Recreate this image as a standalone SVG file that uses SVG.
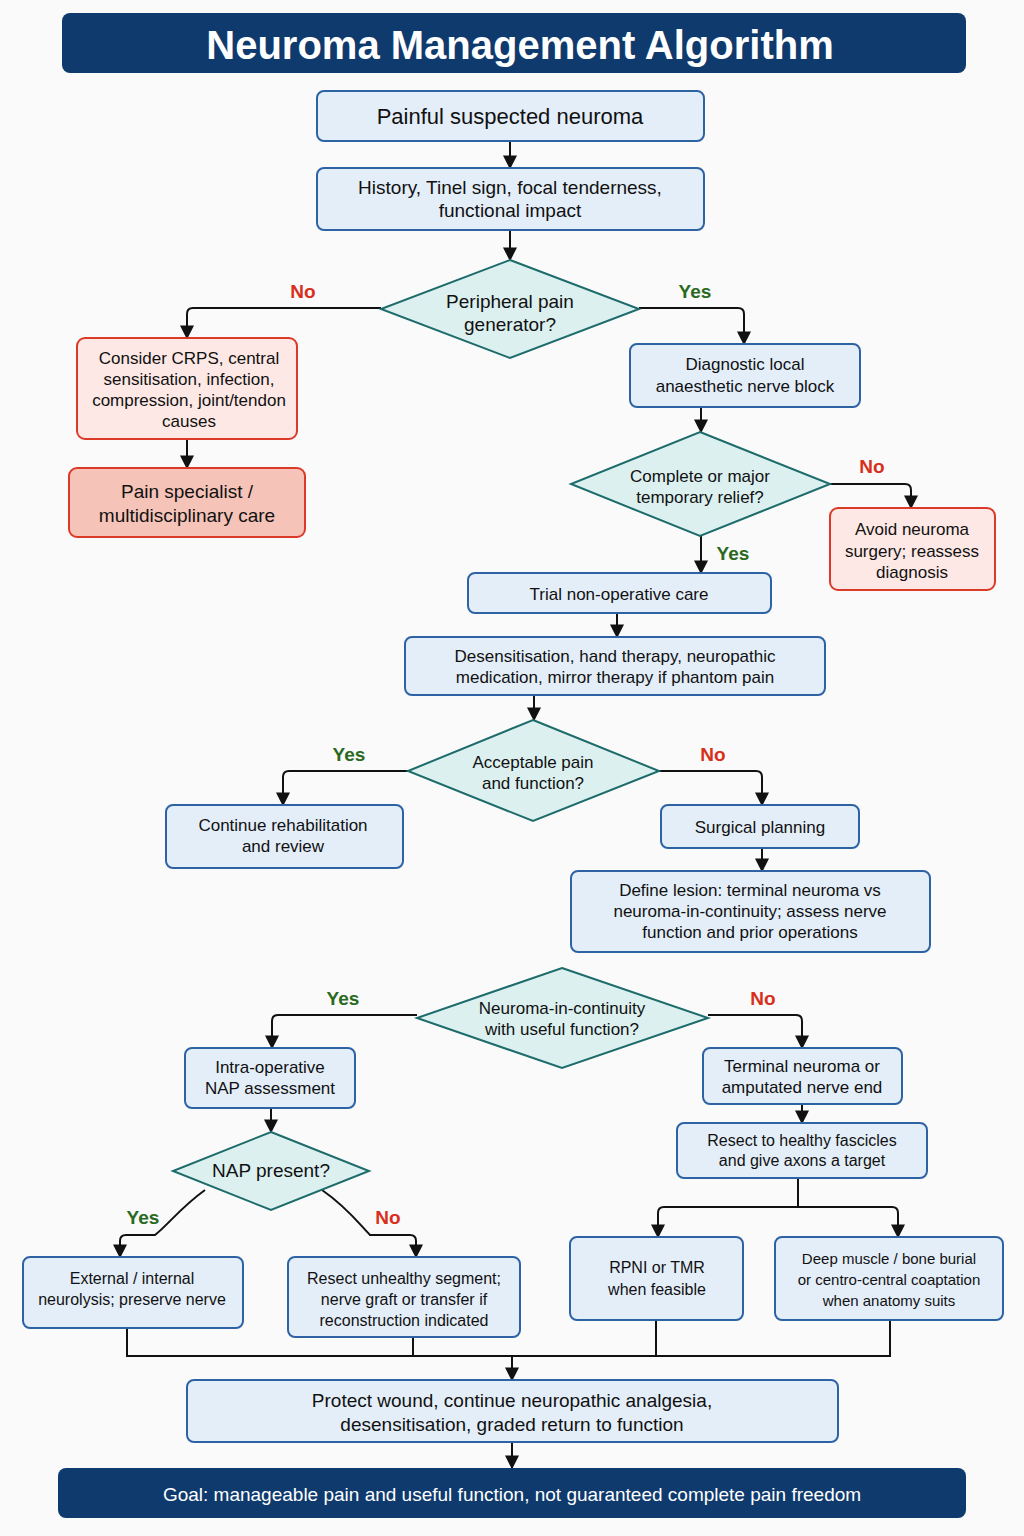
<svg xmlns="http://www.w3.org/2000/svg" width="1024" height="1536" viewBox="0 0 1024 1536">
<defs>
<marker id="ah" viewBox="0 0 10 10" refX="9" refY="5" markerWidth="7" markerHeight="7" orient="auto"><path d="M0,0 L10,5 L0,10 z" fill="#111"/></marker>
<style>
text{font-family:"Liberation Sans",Arial,sans-serif;text-anchor:middle;fill:#111}
.b{fill:#e4eef9;stroke:#2d63a5;stroke-width:2}
.d{fill:#dcf0f0;stroke:#1d6b6b;stroke-width:2}
.r{fill:#fde8e5;stroke:#dc3a28;stroke-width:2}
.r2{fill:#f6c3b8;stroke:#dc3a28;stroke-width:2}
.c path,.c line{fill:none;stroke:#111;stroke-width:2}
.a{marker-end:url(#ah)}
.y{fill:#2a6a1e;font-weight:bold;font-size:19px}
.n{fill:#d8301c;font-weight:bold;font-size:19px}
.t{font-size:17px}
.m{font-size:19px}
</style>
</defs>
<rect width="1024" height="1536" fill="#fafafa"/>
<g id="title"><rect x="62" y="13" width="904" height="60" rx="8" fill="#0f3a6d"/><text x="520" y="59" style="fill:#fff;font-size:40px;font-weight:bold">Neuroma Management Algorithm</text></g>
<g class="c">
<line class="a" x1="510" y1="141" x2="510" y2="168"/>
<line class="a" x1="510" y1="230" x2="510" y2="260"/>
<path class="a" d="M381,308 H193 q-6,0 -6,6 V338"/>
<line class="a" x1="187" y1="439" x2="187" y2="468"/>
<path class="a" d="M639,308 H738 q6,0 6,6 V344"/>
<line class="a" x1="701" y1="407" x2="701" y2="432"/>
<path class="a" d="M830,484 H905 q6,0 6,6 V508"/>
<line class="a" x1="701" y1="536" x2="701" y2="573"/>
<line class="a" x1="617" y1="613" x2="617" y2="637"/>
<line class="a" x1="534" y1="695" x2="534" y2="720"/>
<path class="a" d="M408,771 H289 q-6,0 -6,6 V805"/>
<path class="a" d="M659,771 H756 q6,0 6,6 V805"/>
<line class="a" x1="762" y1="848" x2="762" y2="871"/>
<path class="a" d="M417,1015 H278 q-6,0 -6,6 V1048"/>
<path class="a" d="M708,1015 H796 q6,0 6,6 V1048"/>
<line class="a" x1="802" y1="1104" x2="802" y2="1123"/>
<path d="M798,1178 V1207"/>
<path class="a" d="M798,1207 H664 q-6,0 -6,6 V1237"/>
<path class="a" d="M798,1207 H892 q6,0 6,6 V1237"/>
<line class="a" x1="271" y1="1108" x2="271" y2="1132"/>
<path class="a" d="M205,1190 C180,1208 168,1225 155,1235 H126 q-6,0 -6,6 V1257" transform="translate(0,0)"/>
<path class="a" d="M322,1190 C348,1208 360,1225 370,1235 H410 q6,0 6,6 V1257"/>
<path d="M127,1328 V1356 H890 V1320 M413,1337 V1356 M656,1320 V1356"/>
<line class="a" x1="512" y1="1356" x2="512" y2="1380"/>
<line class="a" x1="512" y1="1442" x2="512" y2="1468"/>
<text x="303" y="298" class="n">No</text>
<text x="695" y="298" class="y">Yes</text>
<text x="872" y="473" class="n">No</text>
<text x="733" y="560" class="y">Yes</text>
<text x="349" y="761" class="y">Yes</text>
<text x="713" y="761" class="n">No</text>
<text x="343" y="1005" class="y">Yes</text>
<text x="763" y="1005" class="n">No</text>
<text x="143" y="1224" class="y">Yes</text>
<text x="388" y="1224" class="n">No</text>
</g>
<g id="n1"><rect class="b" x="317" y="91" width="387" height="50" rx="7"/><text x="510" y="124" style="font-size:22px">Painful suspected neuroma</text></g>
<g id="n2"><rect class="b" x="317" y="168" width="387" height="62" rx="7"/><text x="510" y="194" class="m">History, Tinel sign, focal tenderness,</text><text x="510" y="217" class="m">functional impact</text></g>
<g id="d1"><polygon class="d" points="510,260 639,309 510,358 381,309"/><text x="510" y="308" class="m">Peripheral pain</text><text x="510" y="331" class="m">generator?</text></g>
<g id="n3"><rect class="r" x="77" y="338" width="220" height="101" rx="8"/><text x="189" y="364" class="t">Consider CRPS, central</text><text x="189" y="385" class="t">sensitisation, infection,</text><text x="189" y="406" class="t">compression, joint/tendon</text><text x="189" y="427" class="t">causes</text></g>
<g id="n4"><rect class="r2" x="69" y="468" width="236" height="69" rx="8"/><text x="187" y="498" class="m">Pain specialist /</text><text x="187" y="522" class="m">multidisciplinary care</text></g>
<g id="n5"><rect class="b" x="630" y="344" width="230" height="63" rx="7"/><text x="745" y="370" class="t">Diagnostic local</text><text x="745" y="392" class="t">anaesthetic nerve block</text></g>
<g id="d2"><polygon class="d" points="700,432 830,484 700,536 571,484"/><text x="700" y="482" class="t">Complete or major</text><text x="700" y="503" class="t">temporary relief?</text></g>
<g id="n6"><rect class="r" x="830" y="508" width="165" height="82" rx="8"/><text x="912" y="535" class="t">Avoid neuroma</text><text x="912" y="557" class="t">surgery; reassess</text><text x="912" y="578" class="t">diagnosis</text></g>
<g id="n7"><rect class="b" x="468" y="573" width="303" height="40" rx="7"/><text x="619" y="600" class="t">Trial non-operative care</text></g>
<g id="n8"><rect class="b" x="405" y="637" width="420" height="58" rx="7"/><text x="615" y="662" class="t">Desensitisation, hand therapy, neuropathic</text><text x="615" y="683" class="t">medication, mirror therapy if phantom pain</text></g>
<g id="d3"><polygon class="d" points="533,720 659,771 533,821 408,771"/><text x="533" y="768" class="t">Acceptable pain</text><text x="533" y="789" class="t">and function?</text></g>
<g id="n9"><rect class="b" x="166" y="805" width="237" height="63" rx="7"/><text x="283" y="831" class="t">Continue rehabilitation</text><text x="283" y="852" class="t">and review</text></g>
<g id="n10"><rect class="b" x="661" y="805" width="198" height="43" rx="7"/><text x="760" y="833" class="t">Surgical planning</text></g>
<g id="n11"><rect class="b" x="571" y="871" width="359" height="81" rx="7"/><text x="750" y="896" class="t">Define lesion: terminal neuroma vs</text><text x="750" y="917" class="t">neuroma-in-continuity; assess nerve</text><text x="750" y="938" class="t">function and prior operations</text></g>
<g id="d4"><polygon class="d" points="562,968 708,1018 562,1068 417,1018"/><text x="562" y="1014" class="t">Neuroma-in-continuity</text><text x="562" y="1035" class="t">with useful function?</text></g>
<g id="n12"><rect class="b" x="185" y="1048" width="170" height="60" rx="7"/><text x="270" y="1073" class="t">Intra-operative</text><text x="270" y="1094" class="t">NAP assessment</text></g>
<g id="n13"><rect class="b" x="703" y="1048" width="199" height="56" rx="7"/><text x="802" y="1072" class="t">Terminal neuroma or</text><text x="802" y="1093" class="t">amputated nerve end</text></g>
<g id="n14"><rect class="b" x="677" y="1123" width="250" height="55" rx="7"/><text x="802" y="1146" class="t" style="font-size:16px">Resect to healthy fascicles</text><text x="802" y="1166" class="t" style="font-size:16px">and give axons a target</text></g>
<g id="d5"><polygon class="d" points="271,1132 369,1171 271,1210 173,1171"/><text x="271" y="1177" class="m">NAP present?</text></g>
<g id="n15"><rect class="b" x="23" y="1257" width="220" height="71" rx="7"/><text x="132" y="1284" class="t" style="font-size:16px">External / internal</text><text x="132" y="1305" class="t" style="font-size:16px">neurolysis; preserve nerve</text></g>
<g id="n16"><rect class="b" x="288" y="1257" width="232" height="80" rx="7"/><text x="404" y="1284" class="t" style="font-size:16px">Resect unhealthy segment;</text><text x="404" y="1305" class="t" style="font-size:16px">nerve graft or transfer if</text><text x="404" y="1326" class="t" style="font-size:16px">reconstruction indicated</text></g>
<g id="n17"><rect class="b" x="570" y="1237" width="173" height="83" rx="7"/><text x="657" y="1273" class="t" style="font-size:16px">RPNI or TMR</text><text x="657" y="1295" class="t" style="font-size:16px">when feasible</text></g>
<g id="n18"><rect class="b" x="775" y="1237" width="228" height="83" rx="7"/><text x="889" y="1264" style="font-size:15px">Deep muscle / bone burial</text><text x="889" y="1285" style="font-size:15px">or centro-central coaptation</text><text x="889" y="1306" style="font-size:15px">when anatomy suits</text></g>
<g id="n19"><rect class="b" x="187" y="1380" width="651" height="62" rx="7"/><text x="512" y="1407" class="m">Protect wound, continue neuropathic analgesia,</text><text x="512" y="1431" class="m">desensitisation, graded return to function</text></g>
<g id="goal"><rect x="58" y="1468" width="908" height="50" rx="8" fill="#0f3a6d"/><text x="512" y="1501" style="fill:#fff;font-size:19px">Goal: manageable pain and useful function, not guaranteed complete pain freedom</text></g>
</svg>
